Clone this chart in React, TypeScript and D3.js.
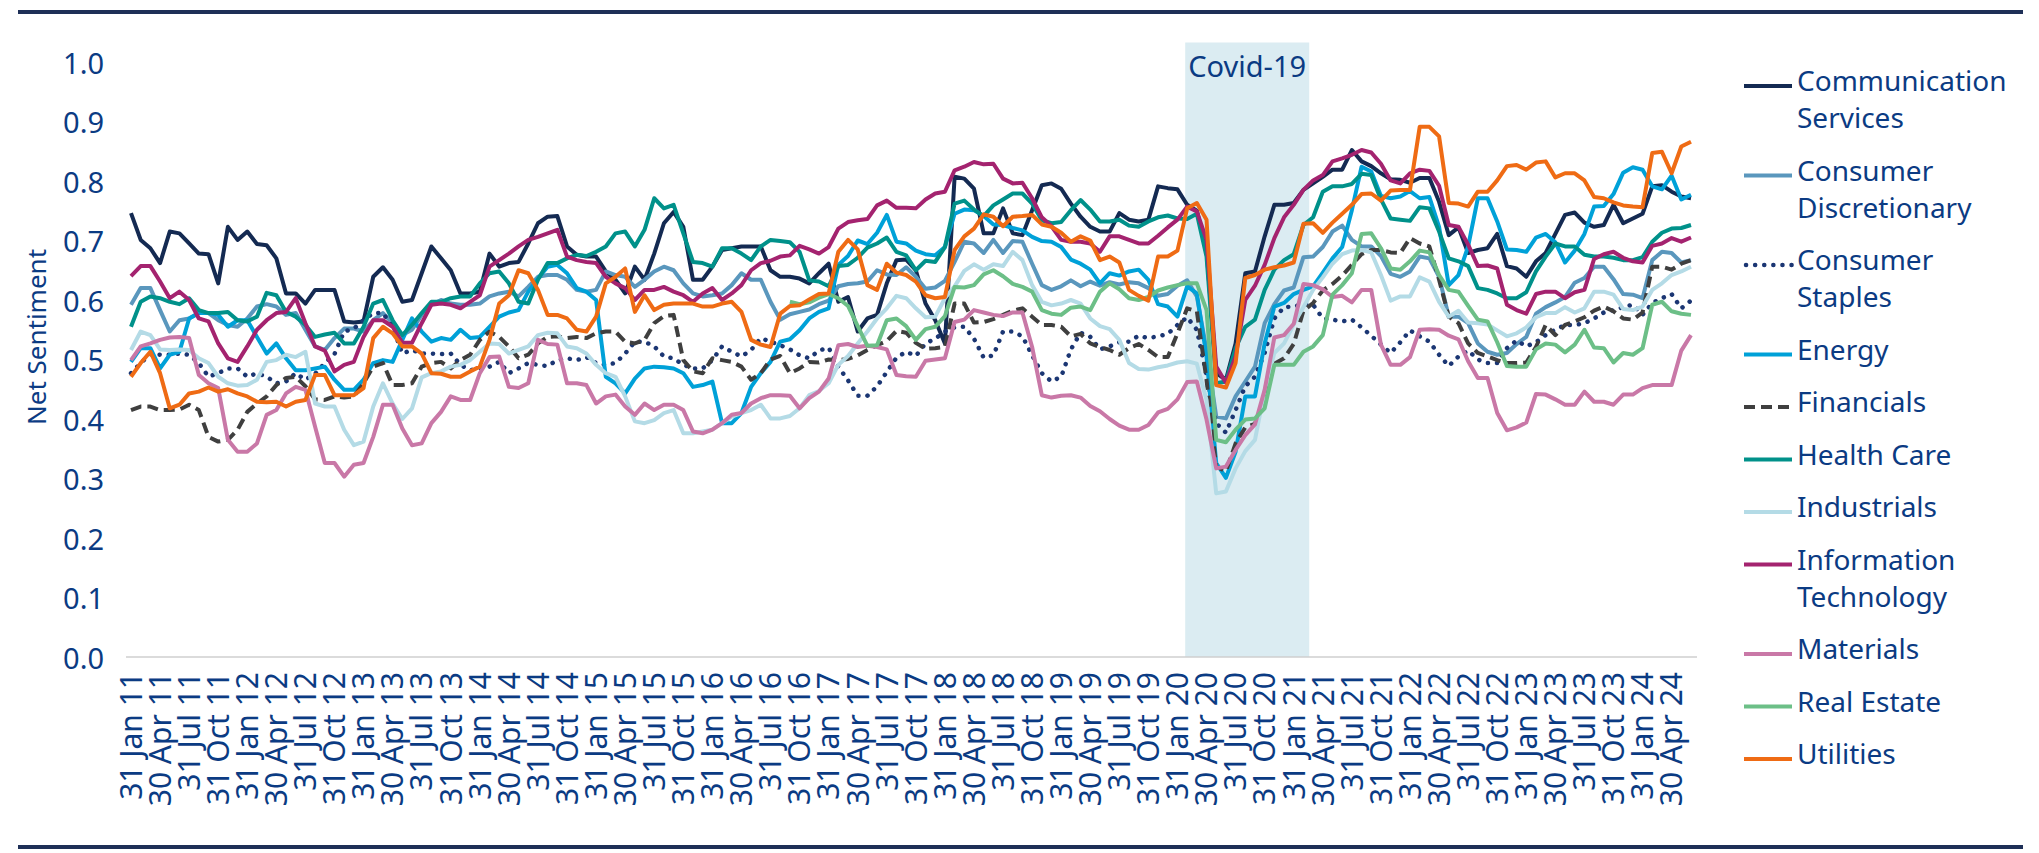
import React from "react";
import * as d3 from "d3";

// monthly net sentiment, 31 Jan 2011 .. 30 Jun 2024
const communicationServices = [
  0.746, 0.701, 0.687, 0.662, 0.715, 0.712, 0.695, 0.678, 0.677, 0.628, 0.723, 0.701, 0.715, 0.694, 0.692, 0.670, 0.611, 0.611, 0.594, 0.617, 0.617, 0.617, 0.564, 0.562, 0.564, 0.639, 0.655, 0.634, 0.597, 0.600, 0.645, 0.690, 0.670,
  0.650, 0.611, 0.611, 0.614, 0.678, 0.656, 0.662, 0.664, 0.695, 0.729, 0.740, 0.741, 0.690, 0.676, 0.673, 0.673, 0.648, 0.634, 0.611, 0.656, 0.634, 0.678, 0.729, 0.748, 0.723, 0.634, 0.634, 0.656, 0.684, 0.687, 0.690, 0.690, 0.690,
  0.650, 0.639, 0.639, 0.636, 0.628, 0.645, 0.661, 0.597, 0.605, 0.547, 0.569, 0.575, 0.628, 0.667, 0.668, 0.650, 0.594, 0.566, 0.527, 0.807, 0.804, 0.787, 0.712, 0.712, 0.754, 0.712, 0.709, 0.751, 0.793, 0.796, 0.787, 0.762, 0.740, 0.723,
  0.715, 0.715, 0.746, 0.735, 0.732, 0.735, 0.791, 0.788, 0.786, 0.760, 0.750, 0.684, 0.477, 0.466, 0.527, 0.645, 0.648, 0.707, 0.760, 0.760, 0.763, 0.785, 0.796, 0.807, 0.819, 0.819, 0.852, 0.833, 0.825, 0.813, 0.803, 0.802,
  0.797, 0.805, 0.805, 0.765, 0.709, 0.722, 0.679, 0.684, 0.687, 0.711, 0.657, 0.653, 0.639, 0.665, 0.679, 0.711, 0.743, 0.747, 0.730, 0.723, 0.726, 0.760, 0.729, 0.737, 0.745, 0.791, 0.793, 0.782, 0.774, 0.771,
];
const consumerDiscretionary = [
  0.592, 0.620, 0.620, 0.583, 0.547, 0.566, 0.569, 0.578, 0.578, 0.566, 0.558, 0.555, 0.569, 0.589, 0.593, 0.589, 0.575, 0.578, 0.550, 0.522, 0.516, 0.536, 0.552, 0.552, 0.547, 0.566, 0.578, 0.561, 0.541, 0.550, 0.575, 0.592, 0.600,
  0.594, 0.592, 0.592, 0.594, 0.606, 0.611, 0.614, 0.606, 0.622, 0.639, 0.642, 0.642, 0.634, 0.617, 0.614, 0.617, 0.648, 0.642, 0.639, 0.622, 0.634, 0.648, 0.656, 0.650, 0.628, 0.611, 0.606, 0.608, 0.611, 0.625, 0.645, 0.634, 0.634,
  0.597, 0.567, 0.576, 0.580, 0.584, 0.593, 0.599, 0.623, 0.627, 0.628, 0.631, 0.650, 0.643, 0.642, 0.655, 0.639, 0.619, 0.621, 0.632, 0.664, 0.698, 0.695, 0.679, 0.701, 0.679, 0.699, 0.698, 0.661, 0.625, 0.617, 0.623, 0.633, 0.623, 0.631,
  0.624, 0.630, 0.626, 0.630, 0.628, 0.620, 0.607, 0.610, 0.624, 0.633, 0.606, 0.516, 0.404, 0.401, 0.438, 0.463, 0.488, 0.561, 0.593, 0.616, 0.621, 0.672, 0.673, 0.689, 0.715, 0.725, 0.701, 0.690, 0.690, 0.674, 0.644, 0.639,
  0.648, 0.673, 0.670, 0.639, 0.572, 0.572, 0.561, 0.527, 0.513, 0.508, 0.511, 0.526, 0.538, 0.577, 0.588, 0.596, 0.605, 0.629, 0.637, 0.656, 0.656, 0.635, 0.610, 0.609, 0.603, 0.667, 0.681, 0.679, 0.663, 0.667,
];
const consumerStaples = [
  0.477, 0.494, 0.509, 0.508, 0.508, 0.510, 0.508, 0.494, 0.471, 0.477, 0.485, 0.485, 0.471, 0.477, 0.471, 0.460, 0.463, 0.477, 0.466, 0.476, 0.494, 0.509, 0.547, 0.552, 0.566, 0.578, 0.578, 0.555, 0.510, 0.516, 0.510, 0.510, 0.509,
  0.510, 0.491, 0.482, 0.485, 0.488, 0.496, 0.477, 0.485, 0.494, 0.491, 0.489, 0.499, 0.502, 0.499, 0.504, 0.494, 0.491, 0.494, 0.510, 0.530, 0.530, 0.522, 0.505, 0.502, 0.491, 0.485, 0.485, 0.499, 0.522, 0.513, 0.505, 0.516, 0.536,
  0.530, 0.524, 0.517, 0.507, 0.502, 0.515, 0.520, 0.488, 0.465, 0.439, 0.439, 0.455, 0.479, 0.503, 0.513, 0.506, 0.527, 0.535, 0.547, 0.554, 0.555, 0.535, 0.503, 0.507, 0.547, 0.547, 0.539, 0.507, 0.477, 0.463, 0.471, 0.517, 0.545, 0.538,
  0.517, 0.522, 0.529, 0.530, 0.540, 0.536, 0.539, 0.543, 0.558, 0.571, 0.550, 0.474, 0.393, 0.377, 0.415, 0.455, 0.471, 0.511, 0.569, 0.588, 0.589, 0.593, 0.592, 0.569, 0.567, 0.564, 0.567, 0.554, 0.540, 0.525, 0.511, 0.529,
  0.549, 0.539, 0.530, 0.508, 0.489, 0.505, 0.515, 0.500, 0.494, 0.494, 0.519, 0.532, 0.522, 0.529, 0.541, 0.550, 0.558, 0.558, 0.561, 0.569, 0.579, 0.583, 0.588, 0.592, 0.575, 0.595, 0.603, 0.610, 0.586, 0.599,
];
const energy = [
  0.496, 0.519, 0.519, 0.485, 0.508, 0.513, 0.569, 0.578, 0.578, 0.575, 0.555, 0.566, 0.566, 0.538, 0.510, 0.527, 0.502, 0.482, 0.482, 0.485, 0.488, 0.466, 0.449, 0.449, 0.466, 0.494, 0.499, 0.496, 0.533, 0.569, 0.547, 0.530, 0.536,
  0.533, 0.550, 0.536, 0.538, 0.555, 0.572, 0.579, 0.583, 0.614, 0.636, 0.656, 0.659, 0.645, 0.620, 0.614, 0.600, 0.471, 0.460, 0.443, 0.468, 0.485, 0.488, 0.487, 0.485, 0.477, 0.454, 0.457, 0.463, 0.393, 0.393, 0.410, 0.454, 0.477,
  0.496, 0.530, 0.534, 0.549, 0.569, 0.580, 0.586, 0.659, 0.674, 0.700, 0.694, 0.713, 0.743, 0.698, 0.695, 0.683, 0.677, 0.675, 0.689, 0.745, 0.752, 0.751, 0.741, 0.727, 0.726, 0.721, 0.717, 0.706, 0.699, 0.698, 0.689, 0.668, 0.661, 0.651,
  0.628, 0.645, 0.641, 0.648, 0.651, 0.634, 0.593, 0.589, 0.572, 0.623, 0.611, 0.505, 0.326, 0.301, 0.345, 0.438, 0.438, 0.527, 0.589, 0.595, 0.610, 0.617, 0.623, 0.646, 0.670, 0.689, 0.751, 0.824, 0.816, 0.775, 0.771, 0.774,
  0.783, 0.771, 0.773, 0.723, 0.625, 0.642, 0.690, 0.771, 0.771, 0.732, 0.685, 0.684, 0.681, 0.705, 0.711, 0.697, 0.663, 0.683, 0.711, 0.757, 0.758, 0.778, 0.814, 0.823, 0.819, 0.791, 0.786, 0.809, 0.769, 0.777,
];
const financials = [
  0.415, 0.421, 0.421, 0.415, 0.415, 0.416, 0.424, 0.415, 0.370, 0.362, 0.365, 0.382, 0.412, 0.426, 0.438, 0.457, 0.469, 0.471, 0.455, 0.433, 0.432, 0.438, 0.436, 0.438, 0.460, 0.488, 0.494, 0.457, 0.457, 0.460, 0.488, 0.494, 0.496,
  0.485, 0.499, 0.508, 0.533, 0.547, 0.538, 0.522, 0.502, 0.508, 0.527, 0.538, 0.539, 0.536, 0.538, 0.536, 0.544, 0.547, 0.547, 0.530, 0.527, 0.533, 0.561, 0.573, 0.575, 0.499, 0.480, 0.477, 0.502, 0.499, 0.496, 0.488, 0.466, 0.477,
  0.500, 0.506, 0.477, 0.485, 0.496, 0.495, 0.500, 0.499, 0.501, 0.507, 0.516, 0.524, 0.531, 0.548, 0.545, 0.528, 0.518, 0.519, 0.521, 0.594, 0.594, 0.562, 0.563, 0.568, 0.575, 0.582, 0.586, 0.572, 0.558, 0.558, 0.555, 0.539, 0.543, 0.527,
  0.521, 0.516, 0.508, 0.519, 0.526, 0.516, 0.504, 0.504, 0.544, 0.586, 0.581, 0.466, 0.320, 0.312, 0.359, 0.386, 0.392, 0.438, 0.493, 0.502, 0.526, 0.582, 0.595, 0.616, 0.627, 0.641, 0.659, 0.677, 0.684, 0.684, 0.680, 0.679,
  0.704, 0.695, 0.690, 0.634, 0.572, 0.561, 0.527, 0.511, 0.505, 0.499, 0.494, 0.494, 0.495, 0.521, 0.558, 0.541, 0.558, 0.564, 0.571, 0.582, 0.589, 0.581, 0.569, 0.567, 0.579, 0.656, 0.656, 0.651, 0.661, 0.667,
];
const healthCare = [
  0.555, 0.597, 0.606, 0.603, 0.597, 0.593, 0.603, 0.583, 0.578, 0.578, 0.580, 0.566, 0.564, 0.572, 0.612, 0.608, 0.580, 0.572, 0.558, 0.538, 0.542, 0.545, 0.527, 0.527, 0.555, 0.594, 0.600, 0.566, 0.541, 0.558, 0.578, 0.597, 0.597,
  0.603, 0.606, 0.606, 0.628, 0.645, 0.648, 0.628, 0.597, 0.594, 0.634, 0.662, 0.662, 0.670, 0.676, 0.674, 0.681, 0.690, 0.712, 0.715, 0.690, 0.718, 0.771, 0.754, 0.760, 0.712, 0.664, 0.662, 0.656, 0.687, 0.687, 0.678, 0.667, 0.690,
  0.701, 0.699, 0.697, 0.681, 0.633, 0.631, 0.623, 0.657, 0.659, 0.671, 0.688, 0.695, 0.705, 0.681, 0.675, 0.650, 0.666, 0.664, 0.689, 0.762, 0.767, 0.752, 0.741, 0.759, 0.769, 0.779, 0.779, 0.762, 0.734, 0.729, 0.731, 0.751, 0.768, 0.752,
  0.732, 0.732, 0.735, 0.725, 0.723, 0.732, 0.739, 0.742, 0.737, 0.736, 0.745, 0.673, 0.460, 0.463, 0.519, 0.555, 0.567, 0.617, 0.651, 0.667, 0.677, 0.726, 0.739, 0.782, 0.791, 0.791, 0.795, 0.812, 0.810, 0.769, 0.737, 0.735,
  0.733, 0.756, 0.754, 0.715, 0.670, 0.665, 0.657, 0.620, 0.617, 0.611, 0.603, 0.603, 0.613, 0.648, 0.673, 0.695, 0.690, 0.690, 0.676, 0.673, 0.673, 0.671, 0.667, 0.667, 0.672, 0.698, 0.713, 0.720, 0.721, 0.726,
];
const industrials = [
  0.516, 0.547, 0.541, 0.517, 0.516, 0.517, 0.516, 0.502, 0.494, 0.471, 0.460, 0.456, 0.457, 0.466, 0.496, 0.499, 0.508, 0.504, 0.513, 0.426, 0.421, 0.421, 0.382, 0.356, 0.362, 0.421, 0.460, 0.426, 0.400, 0.418, 0.470, 0.477, 0.480,
  0.488, 0.491, 0.499, 0.513, 0.527, 0.526, 0.510, 0.516, 0.522, 0.541, 0.545, 0.544, 0.522, 0.519, 0.510, 0.491, 0.477, 0.471, 0.438, 0.396, 0.393, 0.398, 0.410, 0.415, 0.376, 0.376, 0.379, 0.382, 0.393, 0.404, 0.410, 0.415, 0.424,
  0.401, 0.401, 0.405, 0.418, 0.440, 0.447, 0.460, 0.491, 0.506, 0.527, 0.547, 0.569, 0.586, 0.607, 0.603, 0.586, 0.571, 0.572, 0.603, 0.623, 0.649, 0.660, 0.651, 0.660, 0.657, 0.681, 0.667, 0.625, 0.597, 0.591, 0.594, 0.600, 0.594, 0.569,
  0.556, 0.551, 0.533, 0.494, 0.484, 0.483, 0.487, 0.490, 0.495, 0.497, 0.493, 0.432, 0.275, 0.278, 0.317, 0.346, 0.365, 0.449, 0.511, 0.527, 0.559, 0.588, 0.617, 0.638, 0.661, 0.677, 0.683, 0.684, 0.680, 0.642, 0.599, 0.606,
  0.606, 0.638, 0.631, 0.597, 0.572, 0.582, 0.562, 0.561, 0.559, 0.549, 0.539, 0.544, 0.554, 0.571, 0.578, 0.578, 0.588, 0.579, 0.586, 0.614, 0.614, 0.609, 0.585, 0.583, 0.589, 0.617, 0.628, 0.642, 0.648, 0.656,
];
const informationTechnology = [
  0.640, 0.657, 0.657, 0.631, 0.603, 0.614, 0.600, 0.569, 0.564, 0.527, 0.502, 0.496, 0.522, 0.550, 0.566, 0.578, 0.580, 0.603, 0.561, 0.522, 0.515, 0.480, 0.491, 0.496, 0.538, 0.566, 0.566, 0.555, 0.528, 0.528, 0.561, 0.592, 0.594,
  0.592, 0.586, 0.597, 0.608, 0.656, 0.667, 0.678, 0.690, 0.701, 0.706, 0.712, 0.718, 0.673, 0.667, 0.664, 0.662, 0.639, 0.628, 0.620, 0.600, 0.617, 0.617, 0.622, 0.614, 0.608, 0.597, 0.611, 0.620, 0.600, 0.611, 0.625, 0.650, 0.662,
  0.666, 0.673, 0.675, 0.691, 0.685, 0.678, 0.689, 0.720, 0.731, 0.734, 0.736, 0.759, 0.767, 0.755, 0.755, 0.754, 0.769, 0.779, 0.782, 0.818, 0.824, 0.832, 0.828, 0.829, 0.804, 0.796, 0.797, 0.771, 0.739, 0.724, 0.701, 0.698, 0.698, 0.695,
  0.681, 0.707, 0.707, 0.701, 0.695, 0.695, 0.708, 0.722, 0.735, 0.757, 0.749, 0.701, 0.488, 0.461, 0.505, 0.600, 0.624, 0.659, 0.704, 0.739, 0.760, 0.785, 0.801, 0.810, 0.833, 0.838, 0.844, 0.852, 0.848, 0.829, 0.801, 0.796,
  0.813, 0.819, 0.817, 0.792, 0.726, 0.723, 0.693, 0.657, 0.658, 0.653, 0.592, 0.583, 0.577, 0.610, 0.614, 0.614, 0.603, 0.613, 0.617, 0.669, 0.677, 0.681, 0.671, 0.665, 0.663, 0.691, 0.695, 0.704, 0.698, 0.705,
];
const materials = [
  0.499, 0.522, 0.527, 0.533, 0.537, 0.538, 0.536, 0.474, 0.460, 0.452, 0.365, 0.345, 0.345, 0.359, 0.407, 0.415, 0.443, 0.454, 0.449, 0.387, 0.326, 0.326, 0.303, 0.323, 0.326, 0.370, 0.424, 0.424, 0.384, 0.356, 0.359, 0.393, 0.412,
  0.438, 0.432, 0.432, 0.477, 0.504, 0.505, 0.454, 0.452, 0.460, 0.533, 0.526, 0.525, 0.460, 0.460, 0.457, 0.426, 0.438, 0.441, 0.421, 0.407, 0.426, 0.415, 0.424, 0.424, 0.415, 0.379, 0.376, 0.382, 0.393, 0.407, 0.410, 0.426, 0.435,
  0.440, 0.440, 0.439, 0.418, 0.435, 0.446, 0.468, 0.524, 0.526, 0.521, 0.523, 0.521, 0.517, 0.474, 0.472, 0.471, 0.498, 0.500, 0.502, 0.563, 0.567, 0.583, 0.579, 0.575, 0.573, 0.579, 0.579, 0.521, 0.440, 0.436, 0.439, 0.440, 0.436, 0.422,
  0.413, 0.400, 0.389, 0.382, 0.382, 0.390, 0.411, 0.417, 0.433, 0.462, 0.463, 0.399, 0.317, 0.320, 0.348, 0.373, 0.391, 0.449, 0.537, 0.541, 0.560, 0.627, 0.625, 0.618, 0.605, 0.607, 0.596, 0.617, 0.617, 0.525, 0.491, 0.491,
  0.504, 0.550, 0.551, 0.550, 0.540, 0.534, 0.497, 0.469, 0.469, 0.410, 0.381, 0.386, 0.394, 0.442, 0.441, 0.433, 0.424, 0.424, 0.446, 0.429, 0.429, 0.424, 0.441, 0.441, 0.452, 0.457, 0.457, 0.457, 0.515, 0.541,
];
// Real Estate sector series begins Sep 2016 (month index 68)
const realEstateStart = 68;
const realEstate = [
  0.597, 0.593, 0.596, 0.604, 0.610, 0.603, 0.590, 0.556, 0.523, 0.524, 0.566, 0.569, 0.556, 0.533, 0.551, 0.555, 0.573, 0.622, 0.621, 0.625, 0.643, 0.650, 0.640, 0.627, 0.622, 0.614, 0.583, 0.577, 0.575, 0.587, 0.589, 0.583,
  0.614, 0.628, 0.618, 0.603, 0.600, 0.605, 0.616, 0.621, 0.625, 0.628, 0.628, 0.583, 0.365, 0.361, 0.382, 0.399, 0.401, 0.418, 0.491, 0.491, 0.491, 0.513, 0.522, 0.541, 0.609, 0.625, 0.645, 0.711, 0.712, 0.687, 0.653, 0.651,
  0.665, 0.683, 0.680, 0.642, 0.617, 0.614, 0.590, 0.567, 0.564, 0.529, 0.489, 0.488, 0.488, 0.517, 0.527, 0.525, 0.512, 0.525, 0.550, 0.520, 0.519, 0.495, 0.511, 0.508, 0.519, 0.592, 0.597, 0.581, 0.577, 0.575,
];
const utilities = [
  0.471, 0.494, 0.513, 0.477, 0.418, 0.424, 0.443, 0.446, 0.453, 0.446, 0.450, 0.443, 0.438, 0.429, 0.428, 0.429, 0.421, 0.429, 0.432, 0.474, 0.474, 0.440, 0.440, 0.440, 0.452, 0.536, 0.555, 0.544, 0.522, 0.522, 0.510, 0.477, 0.476,
  0.471, 0.471, 0.480, 0.488, 0.533, 0.594, 0.608, 0.650, 0.645, 0.617, 0.575, 0.575, 0.569, 0.550, 0.547, 0.572, 0.628, 0.639, 0.653, 0.580, 0.608, 0.583, 0.592, 0.594, 0.594, 0.594, 0.589, 0.589, 0.594, 0.597, 0.580, 0.533, 0.525,
  0.521, 0.577, 0.590, 0.591, 0.601, 0.610, 0.611, 0.681, 0.701, 0.685, 0.625, 0.617, 0.661, 0.646, 0.642, 0.631, 0.608, 0.603, 0.605, 0.684, 0.707, 0.720, 0.744, 0.740, 0.724, 0.740, 0.741, 0.743, 0.727, 0.723, 0.713, 0.698, 0.707, 0.700,
  0.667, 0.673, 0.663, 0.617, 0.607, 0.599, 0.673, 0.673, 0.683, 0.754, 0.763, 0.735, 0.457, 0.453, 0.494, 0.637, 0.642, 0.651, 0.655, 0.658, 0.663, 0.728, 0.729, 0.713, 0.730, 0.745, 0.760, 0.778, 0.779, 0.767, 0.784, 0.785,
  0.785, 0.891, 0.891, 0.875, 0.763, 0.762, 0.757, 0.782, 0.782, 0.801, 0.825, 0.827, 0.819, 0.831, 0.833, 0.806, 0.813, 0.813, 0.801, 0.773, 0.771, 0.764, 0.759, 0.757, 0.756, 0.847, 0.849, 0.813, 0.858, 0.866,
];

// x-axis labels, one every 3 months starting at index 0
const tickLabels = [
  "31 Jan 11", "30 Apr 11", "31 Jul 11", "31 Oct 11",
  "31 Jan 12", "30 Apr 12", "31 Jul 12", "31 Oct 12",
  "31 Jan 13", "30 Apr 13", "31 Jul 13", "31 Oct 13",
  "31 Jan 14", "30 Apr 14", "31 Jul 14", "31 Oct 14",
  "31 Jan 15", "30 Apr 15", "31 Jul 15", "31 Oct 15",
  "31 Jan 16", "30 Apr 16", "31 Jul 16", "31 Oct 16",
  "31 Jan 17", "30 Apr 17", "31 Jul 17", "31 Oct 17",
  "31 Jan 18", "30 Apr 18", "31 Jul 18", "31 Oct 18",
  "31 Jan 19", "30 Apr 19", "31 Jul 19", "31 Oct 19",
  "31 Jan 20", "30 Apr 20", "31 Jul 20", "31 Oct 20",
  "31 Jan 21", "30 Apr 21", "31 Jul 21", "31 Oct 21",
  "31 Jan 22", "30 Apr 22", "31 Jul 22", "31 Oct 22",
  "31 Jan 23", "30 Apr 23", "31 Jul 23", "31 Oct 23",
  "31 Jan 24", "30 Apr 24",
];
const yTicks = [0, 0.1, 0.2, 0.3, 0.4, 0.5, 0.6, 0.7, 0.8, 0.9, 1.0];
// Covid shading, in month-index units
const covidBand = [108.8, 121.6];

const series = [
  { name: ["Communication", "Services"], values: communicationServices, start: 0, color: "#142a52", dash: "" },
  { name: ["Consumer", "Discretionary"], values: consumerDiscretionary, start: 0, color: "#5a97bd", dash: "" },
  { name: ["Consumer", "Staples"], values: consumerStaples, start: 0, color: "#1b3673", dash: "0.1 9" },
  { name: ["Energy"], values: energy, start: 0, color: "#00a1d8", dash: "" },
  { name: ["Financials"], values: financials, start: 0, color: "#3f3f3f", dash: "11 6" },
  { name: ["Health Care"], values: healthCare, start: 0, color: "#00918a", dash: "" },
  { name: ["Industrials"], values: industrials, start: 0, color: "#b4dbe6", dash: "" },
  { name: ["Information", "Technology"], values: informationTechnology, start: 0, color: "#a4236f", dash: "" },
  { name: ["Materials"], values: materials, start: 0, color: "#c978a7", dash: "" },
  { name: ["Real Estate"], values: realEstate, start: realEstateStart, color: "#6cbf87", dash: "" },
  { name: ["Utilities"], values: utilities, start: 0, color: "#ef6b14", dash: "" },
];

const W = 2039;
const H = 853;
const BLUE = "#0b3b83";
const FONT = "'Noto Sans', 'DejaVu Sans', sans-serif";

export default function App() {
  const x = d3.scaleLinear().domain([0, communicationServices.length - 1]).range([131, 1691]);
  const y = d3.scaleLinear().domain([0, 1]).range([657, 62]);

  const line = (start: number) =>
    d3.line<number>()
      .x((_, i) => x(i + start))
      .y((d) => y(d));

  // legend layout
  let ly = 80;
  const legendRows = series.map((s) => {
    const row = { s, y: ly };
    ly += 37 * (s.name.length - 1) + 52.5;
    return row;
  });

  return (
    <>
      <style>{`body{margin:0}`}</style>
      <svg width={W} height={H} style={{ display: "block", background: "#fff" }} fontFamily={FONT}>
        {/* top & bottom rules */}
        <line x1={18} x2={2023} y1={12} y2={12} stroke="#1e2f57" strokeWidth={4} />
        <line x1={18} x2={2023} y1={847} y2={847} stroke="#1e2f57" strokeWidth={4} />

        {/* covid shading */}
        <rect
          x={x(covidBand[0])}
          y={42.5}
          width={x(covidBand[1]) - x(covidBand[0])}
          height={y(0) - 42.5}
          fill="#dbecf2"
        />
        <text
          x={(x(covidBand[0]) + x(covidBand[1])) / 2}
          y={65}
          textAnchor="middle"
          dominantBaseline="central"
          fontSize={29}
          fill={BLUE}
        >
          Covid-19
        </text>

        {/* y axis */}
        {yTicks.map((t) => (
          <text key={t} x={104} y={y(t)} textAnchor="end" dominantBaseline="central" fontSize={29} fill={BLUE}>
            {t.toFixed(1)}
          </text>
        ))}
        <text
          transform={`translate(46, 337) rotate(-90)`}
          textAnchor="middle"
          fontSize={26}
          fill={BLUE}
        >
          Net Sentiment
        </text>

        {/* x axis */}
        <line x1={126} x2={1697} y1={y(0)} y2={y(0)} stroke="#cfcfcf" strokeWidth={1.5} />
        {tickLabels.map((lab, k) => (
          <text
            key={lab}
            transform={`translate(${x(k * 3)}, 672) rotate(-90)`}
            textAnchor="end"
            dy="0.36em"
            fontSize={30}
            fill={BLUE}
          >
            {lab}
          </text>
        ))}

        {/* series */}
        {series.map((s) => (
          <path
            key={s.name.join(" ")}
            d={line(s.start)(s.values) || ""}
            fill="none"
            stroke={s.color}
            strokeWidth={s.dash === "0.1 9" ? 4.5 : 4}
            strokeDasharray={s.dash || undefined}
            strokeLinecap={s.dash === "0.1 9" ? "round" : "butt"}
            strokeLinejoin="round"
          />
        ))}

        {/* legend */}
        {legendRows.map(({ s, y: ry }) => (
          <g key={s.name.join(" ")}>
            <line
              x1={s.dash === "0.1 9" ? 1746 : 1744}
              x2={1792}
              y1={ry + 6}
              y2={ry + 6}
              stroke={s.color}
              strokeWidth={s.dash === "0.1 9" ? 4.5 : 4}
              strokeDasharray={s.dash || undefined}
              strokeLinecap={s.dash === "0.1 9" ? "round" : "butt"}
            />
            {s.name.map((part, j) => (
              <text key={part} x={1797} y={ry + j * 37} dominantBaseline="central" fontSize={28} fill={BLUE}>
                {part}
              </text>
            ))}
          </g>
        ))}
      </svg>
    </>
  );
}
